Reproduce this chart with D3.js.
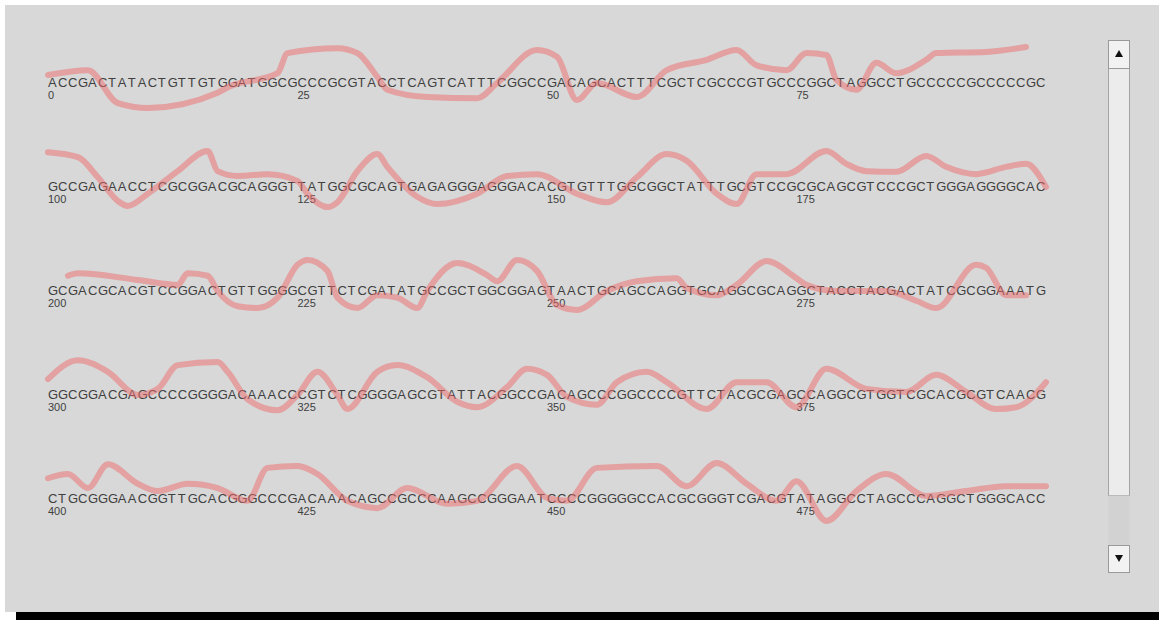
<!DOCTYPE html>
<html>
<head>
<meta charset="UTF-8">
<script src="https://d3js.org/d3.v7.min.js"></script>
<style>
	body { margin:0; background:#ffffff; }
	.Base { font: 13px "Liberation Sans", Arial, sans-serif; fill:#404040; }
	.Tick { font: 11px "Liberation Sans", Arial, sans-serif; fill:#404040; }
	.GC { fill:none; stroke:#f06a6a; stroke-opacity:0.5; stroke-width:6; stroke-linejoin:round; stroke-linecap:round; }
</style>
</head>
<body>
<svg class="Chart"></svg>
<script>
// sequence rows, 100 bases each
var Rows = [
	"ACCGACTATACTGTTGTGGATGGCGCCCGCGTACCTCAGTCATTTCGGCCGACAGCACTTTCGCTCGCCCGTGCCCGGCTAGGCCTGCCCCCGCCCCCGC",
	"GCCGAGAACCTCGCGGACGCAGGGTTATGGCGCAGTGAGAGGGAGGGACACGTGTTTGGCGGCTATTTGCGTCCGCGCAGCGTCCCGCTGGGAGGGGCAC",
	"GCGACGCACGTCCGGACTGTTGGGGCGTTCTCGATATGCCGCTGGCGGAGTAACTGCAGCCAGGTGCAGGCGCAGGCTACCTACGACTATCGCGGAAATG",
	"GGCGGACGAGCCCCGGGGACAAACCCGTCTCGGGGAGCGTATTACGGCCGACAGCCCGGCCCCGTTCTACGCGAGCCAGGCGTGGTCGCACGCGTCAACG",
	"CTGCGGGAACGGTTGCACGGGCCCGACAAACAGCCGCCCAAGCCGGGAATCCCCGGGGGCCACGCGGGTCGACGTATAGGCCTAGCCCAGGCTGGGCACC"
];
var RowStarts = [0, 100, 200, 300, 400];
var TickOffsets = [0, 25, 50, 75];

// GC content curve per row: [base index in row, percent]
var GC0 = [[0,54],[4,62],[7,8],[10,0],[17,25],[18,34],[23,57],[24,90],[29,98],[31,90],[33,51],[34,30],[38,18],[43,16],[45,41],[49,95],[51,84],[53,13],[55,41],[59,18],[62,62],[66,79],[69,95],[71,70],[74,62],[76,90],[78,87],[79,46],[81,30],[83,74],[85,57],[88,79],[89,90],[94,92],[98,100]];
var GC1 = [[0,98],[3,90],[5,57],[7,18],[8,10],[10,30],[13,67],[16,100],[17,67],[19,59],[22,62],[25,51],[26,30],[28,8],[29,16],[31,67],[33,95],[34,74],[37,25],[39,13],[43,30],[46,59],[49,62],[53,30],[56,16],[59,57],[62,95],[64,84],[67,30],[69,13],[71,62],[74,62],[78,100],[80,79],[82,67],[85,66],[88,92],[90,74],[93,62],[96,74],[98,79],[100,41]];
var GC2 = [[2,66],[3,70],[9,59],[13,51],[14,70],[16,66],[17,41],[19,16],[21,13],[23,30],[25,84],[26,92],[28,74],[29,30],[31,13],[33,34],[35,30],[37,13],[38,41],[41,87],[44,67],[45,57],[47,92],[49,74],[51,18],[53,10],[56,41],[59,57],[63,62],[64,46],[67,34],[69,51],[72,90],[75,62],[76,51],[79,41],[84,41],[87,25],[89,13],[93,84],[94,79],[96,34],[98,34]];
var GC3 = [[0,67],[3,98],[6,79],[9,41],[11,51],[13,90],[17,95],[18,79],[20,34],[23,16],[25,41],[27,79],[29,41],[30,18],[33,79],[35,90],[38,70],[41,30],[43,21],[46,54],[48,84],[50,74],[52,38],[55,25],[57,62],[60,79],[62,62],[66,18],[69,62],[72,62],[75,21],[78,84],[82,51],[86,46],[89,74],[92,46],[95,18],[97,21],[100,62]];
var GC4 = [[0,75],[2,82],[4,59],[6,98],[9,66],[11,54],[14,66],[17,59],[20,38],[22,92],[25,95],[27,82],[30,38],[33,26],[36,59],[40,33],[43,38],[47,95],[50,43],[52,38],[55,92],[61,95],[64,62],[67,100],[70,66],[73,38],[75,70],[78,5],[81,54],[84,82],[88,46],[92,54],[96,62],[100,62]];
var GCRows = [GC0, GC1, GC2, GC3, GC4];

var Width = 1159;
var Height = 620;

var XScale = d3.scaleLinear().domain([0, 100]).range([48, 1046]);
var RowScale = d3.scaleLinear().domain([0, 4]).range([82, 498]);
var GCScale = d3.scaleLinear().domain([0, 100]).range([26, -35]);

var Chart = d3.select(".Chart")
	.attr("width", Width)
	.attr("height", Height);

// panel
Chart.append("rect").attr("x", 5).attr("y", 5).attr("width", Width - 5).attr("height", 607).attr("fill", "#d8d8d8");
Chart.append("rect").attr("x", 16).attr("y", 612).attr("width", Width - 16).attr("height", 8).attr("fill", "#000000");

var Line = d3.line()
	.x(function(d){ return XScale(d[0]); })
	.y(function(d){ return GCScale(d[1]); })
	.curve(d3.curveMonotoneX);

var RowGroups = Chart.selectAll(".Row")
	.data(Rows)
	.enter()
	.append("g")
	.attr("class", "Row")
	.attr("transform", function(d, i){ return "translate(0," + RowScale(i) + ")"; });

RowGroups.each(function(Seq, i)
{
	var G = d3.select(this);
	G.selectAll(".Base")
		.data(Seq.split(""))
		.enter()
		.append("text")
		.attr("class", "Base")
		.attr("x", function(d, j){ return XScale(j); })
		.attr("y", 4.5)
		.text(function(d){ return d; });

	G.selectAll(".Tick")
		.data(TickOffsets)
		.enter()
		.append("text")
		.attr("class", "Tick")
		.attr("x", function(d){ return XScale(d); })
		.attr("y", 17)
		.text(function(d){ return RowStarts[i] + d; });

	G.append("path")
		.attr("class", "GC")
		.attr("d", Line(GCRows[i]));
});

// scrollbar
var Sb = Chart.append("g").attr("class", "Scroll");
Sb.append("rect").attr("x", 1108.5).attr("y", 68.5).attr("width", 21).attr("height", 427).attr("fill", "#ececec").attr("stroke", "#a4a4a4");
Sb.append("rect").attr("x", 1108.5).attr("y", 495.5).attr("width", 21).attr("height", 50).attr("fill", "#d2d2d2");
Sb.append("rect").attr("x", 1108.5).attr("y", 40.5).attr("width", 21).attr("height", 28).attr("fill", "#f2f2f2").attr("stroke", "#9a9a9a");
Sb.append("rect").attr("x", 1108.5).attr("y", 545.5).attr("width", 21).attr("height", 27).attr("fill", "#f2f2f2").attr("stroke", "#9a9a9a");
Sb.append("path").attr("d", "M1115,57 L1123,57 L1119,50 Z").attr("fill", "#111");
Sb.append("path").attr("d", "M1115,555 L1123,555 L1119,562 Z").attr("fill", "#111");
</script>
</body>
</html>
